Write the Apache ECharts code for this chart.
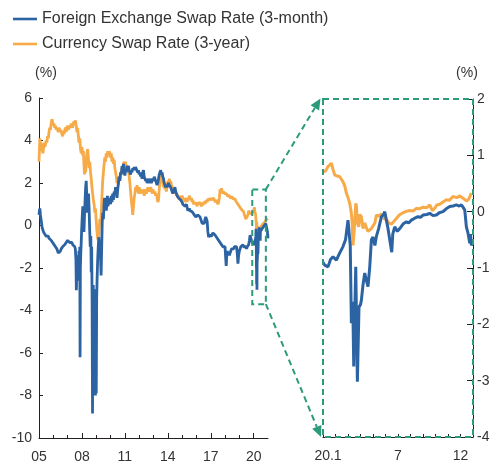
<!DOCTYPE html>
<html>
<head>
<meta charset="utf-8">
<script src="https://cdn.jsdelivr.net/npm/echarts@6/dist/echarts.min.js"></script>
<style>
  html, body { margin: 0; padding: 0; background: #fff; }
  #chart { width: 493px; height: 471px; }
</style>
</head>
<body>
<div id="chart"></div>
<script>
// Series names
const nameFX = 'Foreign Exchange Swap Rate (3-month)';
const nameCS = 'Currency Swap Rate (3-year)';

// Long-run panel: [decimal year, %], 2005 - 2019
const csLong = [
  [2005.00,3.0],[2005.03,3.6],[2005.06,4.1],[2005.10,3.8],[2005.14,3.9],[2005.18,3.5],[2005.22,3.7],[2005.27,3.4],[2005.31,3.6],[2005.36,3.9],
  [2005.40,3.7],[2005.45,3.8],[2005.50,4.0],[2005.55,3.9],[2005.60,4.2],[2005.65,4.1],[2005.70,4.4],[2005.75,4.6],[2005.80,4.5],[2005.85,4.8],
  [2005.90,5.0],[2005.95,4.9],[2006.00,4.7],[2006.05,4.8],[2006.10,4.6],[2006.15,4.7],[2006.20,4.5],[2006.25,4.6],[2006.30,4.5],[2006.35,4.4],
  [2006.40,4.6],[2006.45,4.5],[2006.50,4.4],[2006.55,4.5],[2006.60,4.3],[2006.65,4.2],[2006.70,4.4],[2006.75,4.3],[2006.80,4.5],[2006.85,4.6],
  [2006.90,4.4],[2006.95,4.6],[2007.00,4.7],[2007.05,4.5],[2007.10,4.6],[2007.15,4.7],[2007.20,4.6],[2007.25,4.8],[2007.30,4.7],[2007.35,4.6],
  [2007.40,4.8],[2007.45,4.9],[2007.50,4.8],[2007.55,4.95],[2007.60,4.7],[2007.65,4.4],[2007.70,4.6],[2007.75,4.2],[2007.80,3.9],[2007.85,4.1],
  [2007.90,3.6],[2007.95,3.4],[2008.00,3.7],[2008.05,3.3],[2008.10,3.5],[2008.14,2.9],[2008.18,2.4],[2008.22,2.8],[2008.26,2.5],[2008.30,3.1],
  [2008.35,3.4],[2008.40,3.6],[2008.45,3.2],[2008.50,2.7],[2008.55,3.0],[2008.60,2.5],[2008.65,2.2],[2008.70,1.8],[2008.75,1.5],[2008.80,1.2],
  [2008.85,1.0],[2008.90,0.6],[2008.95,0.8],[2009.00,0.2],[2009.05,-0.3],[2009.10,-0.6],[2009.15,-0.7],[2009.20,-0.2],[2009.25,0.3],[2009.30,0.1],
  [2009.35,0.6],[2009.40,1.4],[2009.45,2.1],[2009.50,2.5],[2009.55,2.9],[2009.60,3.2],[2009.65,3.0],[2009.70,3.4],[2009.75,3.2],[2009.80,3.5],
  [2009.85,3.3],[2009.90,3.5],[2009.95,3.4],[2010.00,3.2],[2010.05,3.4],[2010.10,3.0],[2010.15,3.2],[2010.20,2.9],[2010.25,3.1],[2010.30,2.7],
  [2010.35,2.5],[2010.40,2.3],[2010.45,2.0],[2010.50,2.2],[2010.55,1.9],[2010.60,2.3],[2010.65,2.2],[2010.70,2.5],[2010.75,2.4],[2010.80,2.7],
  [2010.85,2.6],[2010.90,2.9],[2010.95,3.0],[2011.00,2.8],[2011.05,3.0],[2011.10,2.7],[2011.15,2.8],[2011.20,2.5],[2011.25,2.7],[2011.30,2.3],
  [2011.35,2.0],[2011.40,1.6],[2011.45,1.2],[2011.50,0.9],[2011.55,0.5],[2011.60,0.9],[2011.65,1.3],[2011.70,1.5],[2011.75,1.8],[2011.80,1.6],
  [2011.85,1.9],[2011.90,1.7],[2011.95,1.5],[2012.00,1.8],[2012.05,1.6],[2012.10,1.5],[2012.15,1.7],[2012.20,1.5],[2012.25,1.7],[2012.30,1.6],
  [2012.35,1.4],[2012.40,1.6],[2012.45,1.7],[2012.50,1.5],[2012.55,1.6],[2012.60,1.8],[2012.65,1.6],[2012.70,1.7],[2012.75,1.6],[2012.80,1.8],
  [2012.85,1.7],[2012.90,1.5],[2012.95,1.7],[2013.00,1.6],[2013.05,1.5],[2013.10,1.6],[2013.15,1.4],[2013.20,1.5],[2013.25,1.3],[2013.30,1.1],
  [2013.35,1.2],[2013.40,1.7],[2013.45,2.1],[2013.50,2.4],[2013.55,2.2],[2013.60,2.3],[2013.65,2.0],[2013.70,1.8],[2013.75,1.9],[2013.80,1.7],
  [2013.85,1.8],[2013.90,1.6],[2013.95,1.9],[2014.00,2.1],[2014.05,1.9],[2014.10,2.2],[2014.15,2.0],[2014.20,2.1],[2014.25,1.9],[2014.30,1.8],
  [2014.35,1.7],[2014.40,1.6],[2014.45,1.7],[2014.50,1.5],[2014.55,1.6],[2014.60,1.4],[2014.65,1.5],[2014.70,1.3],[2014.75,1.4],[2014.80,1.2],
  [2014.85,1.4],[2014.90,1.3],[2014.95,1.2],[2015.00,1.4],[2015.05,1.3],[2015.10,1.2],[2015.15,1.3],[2015.20,1.1],[2015.25,1.2],[2015.30,1.3],
  [2015.35,1.1],[2015.40,1.3],[2015.45,1.2],[2015.50,1.4],[2015.55,1.3],[2015.60,1.2],[2015.65,1.3],[2015.70,1.1],[2015.75,1.2],[2015.80,1.0],
  [2015.85,1.1],[2015.90,1.0],[2015.95,1.1],[2016.00,1.0],[2016.05,0.9],[2016.10,1.1],[2016.15,1.0],[2016.20,0.95],[2016.25,1.1],[2016.30,1.0],
  [2016.35,0.9],[2016.40,1.05],[2016.45,0.95],[2016.50,1.1],[2016.55,1.0],[2016.60,1.15],[2016.65,1.05],[2016.70,1.2],[2016.75,1.1],[2016.80,1.25],
  [2016.85,1.2],[2016.90,1.3],[2016.95,1.2],[2017.00,1.3],[2017.05,1.2],[2017.10,1.25],[2017.15,1.15],[2017.20,1.3],[2017.25,1.2],[2017.30,1.25],
  [2017.35,1.1],[2017.40,1.2],[2017.45,1.1],[2017.50,1.0],[2017.55,1.1],[2017.60,1.3],[2017.65,1.7],[2017.70,1.6],[2017.75,1.75],[2017.80,1.6],
  [2017.85,1.5],[2017.90,1.6],[2017.95,1.5],[2018.00,1.55],[2018.05,1.45],[2018.10,1.5],[2018.15,1.4],[2018.20,1.45],[2018.25,1.35],[2018.30,1.4],
  [2018.35,1.3],[2018.40,1.35],[2018.45,1.3],[2018.50,1.35],[2018.55,1.25],[2018.60,1.3],[2018.65,1.2],[2018.70,1.25],[2018.75,1.15],[2018.80,1.2],
  [2018.85,1.05],[2018.90,1.0],[2018.95,0.95],[2019.00,0.9],[2019.05,0.85],[2019.10,0.9],[2019.15,0.75],[2019.20,0.8],[2019.25,0.7],[2019.30,0.65],
  [2019.35,0.5],[2019.40,0.45],[2019.45,0.3],[2019.50,0.25],[2019.55,0.35],[2019.60,0.5],[2019.65,0.7],[2019.70,0.75],[2019.75,0.55],[2019.80,0.6],
  [2019.85,0.5],[2019.90,0.6],[2019.95,0.65]
];

const fxLong = [
  [2005.00,0.5],[2005.03,0.7],[2005.06,0.8],[2005.10,0.5],[2005.14,0.3],[2005.18,0.1],[2005.22,-0.1],[2005.27,-0.2],[2005.31,-0.3],[2005.36,-0.35],
  [2005.40,-0.4],[2005.45,-0.45],[2005.50,-0.5],[2005.55,-0.45],[2005.60,-0.55],[2005.65,-0.5],[2005.70,-0.6],[2005.75,-0.55],[2005.80,-0.65],[2005.85,-0.7],
  [2005.90,-0.75],[2005.95,-0.8],[2006.00,-0.85],[2006.05,-0.9],[2006.10,-0.95],[2006.15,-1.0],[2006.20,-1.05],[2006.25,-1.1],[2006.30,-1.2],[2006.35,-1.3],
  [2006.40,-1.25],[2006.45,-1.3],[2006.50,-1.2],[2006.55,-1.1],[2006.60,-1.05],[2006.65,-1.0],[2006.70,-1.05],[2006.75,-0.95],[2006.80,-0.9],[2006.85,-0.85],
  [2006.90,-0.8],[2006.95,-0.75],[2007.00,-0.7],[2007.05,-0.65],[2007.10,-0.75],[2007.15,-0.8],[2007.20,-0.75],[2007.25,-0.85],[2007.30,-0.8],[2007.35,-0.9],
  [2007.40,-0.85],[2007.45,-0.95],[2007.50,-1.0],[2007.54,-1.1],[2007.58,-1.6],[2007.61,-3.05],[2007.64,-2.2],[2007.67,-1.4],[2007.70,-2.0],[2007.73,-1.5],
  [2007.76,-2.6],[2007.79,-1.2],[2007.82,-1.8],[2007.85,-1.0],[2007.87,-6.2],[2007.89,-2.0],[2007.92,-1.3],[2007.95,-0.8],[2007.98,-0.2],[2008.02,0.4],
  [2008.06,0.9],[2008.10,0.3],[2008.14,-0.3],[2008.18,0.5],[2008.22,1.2],[2008.26,1.8],[2008.30,2.1],[2008.34,1.3],[2008.38,0.6],[2008.42,1.1],
  [2008.46,1.5],[2008.50,0.8],[2008.54,-0.2],[2008.58,-1.0],[2008.62,-0.5],[2008.65,-2.2],[2008.68,-1.0],[2008.71,-3.5],[2008.74,-8.85],[2008.76,-4.0],
  [2008.79,-2.8],[2008.82,-5.5],[2008.85,-3.0],[2008.88,-7.5],[2008.91,-4.2],[2008.94,-8.0],[2008.97,-5.0],[2009.00,-7.9],[2009.03,-3.4],[2009.06,-2.5],
  [2009.10,-1.6],[2009.14,-1.0],[2009.18,-0.55],[2009.22,-1.2],[2009.26,-0.8],[2009.30,-1.5],[2009.34,-2.35],[2009.38,-1.0],[2009.42,0.2],[2009.46,0.6],
  [2009.50,0.3],[2009.54,0.9],[2009.58,1.3],[2009.62,0.8],[2009.66,1.2],[2009.70,0.7],[2009.74,1.0],[2009.78,1.4],[2009.82,0.9],[2009.86,1.2],
  [2009.90,1.0],[2009.95,1.3],[2010.00,1.0],[2010.05,1.4],[2010.10,1.1],[2010.15,1.5],[2010.20,1.2],[2010.25,1.6],[2010.30,1.5],[2010.35,1.8],
  [2010.40,1.6],[2010.45,1.3],[2010.50,1.7],[2010.55,2.0],[2010.60,2.3],[2010.65,2.1],[2010.70,2.5],[2010.75,2.4],[2010.80,2.8],[2010.85,2.6],
  [2010.90,2.9],[2010.95,2.5],[2011.00,2.35],[2011.05,2.6],[2011.10,2.5],[2011.15,2.8],[2011.20,2.7],[2011.25,2.8],[2011.30,2.6],[2011.35,2.5],
  [2011.40,2.4],[2011.45,2.6],[2011.50,2.5],[2011.55,2.7],[2011.60,2.6],[2011.65,2.75],[2011.70,2.6],[2011.75,2.75],[2011.80,2.65],[2011.85,2.7],
  [2011.90,2.5],[2011.95,2.6],[2012.00,2.4],[2012.05,2.5],[2012.10,2.3],[2012.15,2.4],[2012.20,2.2],[2012.25,2.5],[2012.30,2.6],[2012.35,2.3],
  [2012.40,2.2],[2012.45,2.1],[2012.50,2.2],[2012.55,2.0],[2012.60,2.1],[2012.65,2.2],[2012.70,2.0],[2012.75,2.1],[2012.80,2.2],[2012.85,2.0],
  [2012.90,2.1],[2012.95,2.2],[2013.00,2.1],[2013.05,2.3],[2013.10,2.2],[2013.15,2.1],[2013.20,2.0],[2013.25,1.9],[2013.30,2.0],[2013.35,2.2],
  [2013.40,2.4],[2013.45,2.5],[2013.50,2.6],[2013.55,2.4],[2013.60,2.5],[2013.65,2.3],[2013.70,2.2],[2013.75,2.0],[2013.80,1.9],[2013.85,1.8],
  [2013.90,1.9],[2013.95,1.8],[2014.00,1.9],[2014.05,2.0],[2014.10,1.9],[2014.15,1.95],[2014.20,1.8],[2014.25,1.7],[2014.30,1.6],[2014.35,1.5],
  [2014.40,1.6],[2014.45,1.7],[2014.50,1.8],[2014.55,1.6],[2014.60,1.5],[2014.65,1.4],[2014.70,1.35],[2014.75,1.3],[2014.80,1.25],[2014.85,1.3],
  [2014.90,1.2],[2014.95,1.15],[2015.00,1.1],[2015.05,1.0],[2015.10,1.05],[2015.15,0.95],[2015.20,0.9],[2015.25,0.95],[2015.30,1.0],[2015.35,0.85],
  [2015.40,0.7],[2015.45,0.75],[2015.50,0.8],[2015.55,0.7],[2015.60,0.75],[2015.65,0.7],[2015.70,0.65],[2015.75,0.7],[2015.80,0.6],[2015.85,0.5],
  [2015.90,0.45],[2015.95,0.4],[2016.00,0.35],[2016.05,0.4],[2016.10,0.5],[2016.15,0.55],[2016.20,0.5],[2016.25,0.4],[2016.30,0.3],[2016.35,0.2],
  [2016.40,0.1],[2016.45,0.05],[2016.50,0.15],[2016.55,0.1],[2016.60,0.3],[2016.65,0.4],[2016.70,0.35],[2016.75,0.2],[2016.80,-0.3],[2016.85,-0.55],
  [2016.90,-0.45],[2016.95,-0.5],[2017.00,-0.4],[2017.05,-0.5],[2017.10,-0.45],[2017.15,-0.35],[2017.20,-0.4],[2017.25,-0.3],[2017.30,-0.45],[2017.35,-0.4],
  [2017.40,-0.5],[2017.45,-0.6],[2017.50,-0.55],[2017.55,-0.7],[2017.60,-0.65],[2017.65,-0.8],[2017.70,-0.75],[2017.75,-0.9],[2017.80,-0.85],[2017.85,-1.0],
  [2017.90,-0.95],[2017.95,-1.05],[2018.00,-1.0],[2018.04,-1.5],[2018.08,-1.9],[2018.12,-1.4],[2018.16,-1.2],[2018.20,-1.35],[2018.25,-1.25],[2018.30,-1.4],
  [2018.35,-1.3],[2018.40,-1.2],[2018.45,-1.1],[2018.50,-1.15],[2018.55,-1.05],[2018.60,-1.1],[2018.65,-1.0],[2018.70,-1.05],[2018.75,-0.95],[2018.80,-1.0],
  [2018.85,-1.3],[2018.90,-1.8],[2018.95,-1.4],[2019.00,-1.2],[2019.05,-1.1],[2019.10,-1.0],[2019.15,-1.05],[2019.20,-0.95],[2019.25,-0.9],[2019.30,-1.0],
  [2019.35,-0.95],[2019.40,-1.05],[2019.45,-1.0],[2019.50,-1.1],[2019.55,-1.0],[2019.60,-0.95],[2019.65,-0.9],[2019.70,-0.7],[2019.75,-0.45],[2019.80,-0.6],
  [2019.85,-0.7],[2019.90,-0.8],[2019.95,-0.85]
];

// 2020 detail panel: [months since 1 Jan 2020, %]
const cs2020 = [
  [0,0.71],[0.2,0.72],[0.4,0.8],[0.55,0.78],[0.67,0.86],[0.8,0.75],[0.94,0.65],[1.1,0.66],[1.34,0.62],[1.5,0.6],
  [1.6,0.53],[1.75,0.45],[1.87,0.33],[2.0,0.25],[2.14,0.15],[2.25,0.0],[2.32,-0.15],[2.4,-0.6],[2.48,-0.38],[2.56,-0.1],
  [2.62,0.15],[2.67,0.1],[2.75,-0.2],[2.86,-0.27],[2.95,-0.05],[3.07,-0.09],[3.2,-0.3],[3.34,-0.2],[3.5,-0.3],[3.6,-0.35],
  [3.74,-0.33],[3.87,-0.3],[4.0,-0.28],[4.15,-0.2],[4.27,-0.06],[4.45,-0.08],[4.67,-0.04],[4.85,-0.12],[5.07,-0.14],[5.25,-0.2],
  [5.47,-0.22],[5.65,-0.18],[5.87,-0.12],[6.1,-0.06],[6.4,-0.02],[6.6,0.0],[6.94,0.02],[7.2,0.01],[7.47,0.06],[7.7,0.05],
  [8.0,0.08],[8.3,0.07],[8.54,0.12],[8.75,0.02],[8.94,0.06],[9.1,0.12],[9.34,0.13],[9.6,0.17],[9.87,0.21],[10.1,0.2],
  [10.4,0.27],[10.7,0.25],[10.94,0.28],[11.2,0.24],[11.47,0.19],[11.65,0.22],[11.87,0.33]
];

const fx2020 = [
  [0,-0.9],[0.14,-0.95],[0.4,-0.98],[0.6,-0.85],[0.8,-0.8],[1.07,-0.86],[1.3,-0.75],[1.6,-0.62],[1.8,-0.5],[2.0,-0.15],
  [2.1,-0.4],[2.18,-0.6],[2.27,-1.98],[2.38,-1.6],[2.46,-2.75],[2.54,-1.8],[2.62,-0.98],[2.68,-1.9],[2.75,-3.02],[2.82,-2.3],
  [2.88,-1.69],[3.0,-1.65],[3.07,-1.57],[3.2,-1.3],[3.34,-1.09],[3.45,-1.2],[3.6,-1.33],[3.74,-0.98],[3.87,-0.5],[4.0,-0.45],
  [4.15,-0.6],[4.27,-0.44],[4.45,-0.3],[4.67,-0.09],[4.85,-0.05],[4.94,0.0],[5.07,-0.15],[5.2,-0.3],[5.34,-0.5],[5.5,-0.72],
  [5.58,-0.4],[5.74,-0.27],[5.95,-0.35],[6.14,-0.3],[6.4,-0.22],[6.67,-0.18],[6.85,-0.2],[7.07,-0.15],[7.3,-0.12],[7.6,-0.09],
  [7.8,-0.1],[8.0,-0.06],[8.3,-0.05],[8.54,-0.03],[8.8,-0.07],[9.07,-0.06],[9.3,-0.02],[9.6,0.0],[9.85,0.05],[10.14,0.09],
  [10.4,0.1],[10.67,0.12],[10.9,0.1],[11.07,0.12],[11.2,0.08],[11.34,0.03],[11.47,-0.27],[11.6,-0.38],[11.74,-0.56],[11.8,-0.4],
  [11.87,-0.6],[11.95,-0.55]
];

// Tick labels
const yearLabelYears = [2005, 2008, 2011, 2014, 2017, 2020];
const monthLabels = { 0: '{first|20.1}', 6: '7', 11: '12' };

// The long-run panel carries the 2020 observations on as well
const toYear = p => [2020 + p[0] / 12, p[1]];
const csAll = csLong.concat(cs2020.map(toYear));
const fxAll = fxLong.concat(fx2020.map(toYear));

const BLUE = '#2c63a3';
const ORANGE = '#f7aa48';
const GREEN = '#2b9b7c';
const AXIS = '#231f20';
const TEXT = '#333333';
const FONT = '"Liberation Sans", Arial, Helvetica, sans-serif';

const allYears = [];
for (let y = 2005; y <= 2020; y++) allYears.push(y);

const chart = echarts.init(document.getElementById('chart'), null, { renderer: 'canvas' });

const labelStyle = { color: TEXT, fontSize: 14, fontFamily: FONT };

chart.setOption({
  animation: false,
  backgroundColor: '#ffffff',
  textStyle: { fontFamily: FONT },
  legend: {
    data: [nameFX, nameCS],
    orient: 'vertical',
    left: 8,
    top: 6,
    itemWidth: 24,
    itemHeight: 14,
    itemGap: 9,
    icon: 'path://M0,6 L24,6 L24,8.6 L0,8.6 Z',
    textStyle: { color: TEXT, fontSize: 16, fontFamily: FONT }
  },
  grid: [
    { left: 39, top: 98, width: 229, height: 340 },
    { left: 323, top: 99, width: 150, height: 338 }
  ],
  xAxis: [
    {
      gridIndex: 0, type: 'value', min: 2005, max: 2021, position: 'bottom',
      axisLine: { show: true, onZero: false, lineStyle: { color: AXIS, width: 1 } },
      axisTick: { show: true, inside: true, length: 5, customValues: yearLabelYears, lineStyle: { color: AXIS } },
      axisLabel: {
        show: true, margin: 12, customValues: yearLabelYears, ...labelStyle,
        formatter: v => String(Math.round(v) % 100).padStart(2, '0')
      },
      splitLine: { show: false }
    },
    {
      gridIndex: 0, type: 'value', min: 2005, max: 2021, position: 'bottom', offset: 0,
      axisLine: { show: false, onZero: false },
      axisTick: { show: true, inside: true, length: 3, customValues: allYears, lineStyle: { color: AXIS } },
      axisLabel: { show: false },
      splitLine: { show: false }
    },
    {
      gridIndex: 1, type: 'value', min: 0, max: 12, interval: 1, position: 'bottom',
      axisLine: { show: true, onZero: false, lineStyle: { color: AXIS, width: 1 } },
      axisTick: { show: true, inside: true, length: 3, lineStyle: { color: AXIS } },
      axisLabel: {
        show: true, margin: 12, customValues: [0, 6, 11], ...labelStyle,
        formatter: v => monthLabels[Math.round(v)] || '',
        rich: { first: { ...labelStyle, padding: [0, 0, 0, 10] } }
      },
      splitLine: { show: false }
    }
  ],
  yAxis: [
    {
      gridIndex: 0, type: 'value', min: -10, max: 6, interval: 2, position: 'left',
      axisLine: { show: true, onZero: false, lineStyle: { color: AXIS, width: 1 } },
      axisTick: { show: true, inside: true, length: 4, lineStyle: { color: AXIS } },
      axisLabel: { margin: 7, ...labelStyle },
      splitLine: { show: false }
    },
    {
      gridIndex: 1, type: 'value', min: -4, max: 2, interval: 1, position: 'right',
      axisLine: { show: true, onZero: false, lineStyle: { color: AXIS, width: 1 } },
      axisTick: { show: true, inside: true, length: 6, lineStyle: { color: AXIS } },
      axisLabel: { margin: 4, ...labelStyle },
      splitLine: { show: false }
    }
  ],
  series: [
    {
      name: nameCS, type: 'line', xAxisIndex: 0, yAxisIndex: 0, data: csAll,
      showSymbol: false, symbol: 'none', color: ORANGE,
      lineStyle: { color: ORANGE, width: 2.8 }, z: 2
    },
    {
      name: nameFX, type: 'line', xAxisIndex: 0, yAxisIndex: 0, data: fxAll,
      showSymbol: false, symbol: 'none', color: BLUE,
      lineStyle: { color: BLUE, width: 2.8 }, z: 3
    },
    {
      name: nameCS, type: 'line', xAxisIndex: 2, yAxisIndex: 1, data: cs2020,
      showSymbol: false, symbol: 'none', color: ORANGE,
      lineStyle: { color: ORANGE, width: 3 }, z: 2
    },
    {
      name: nameFX, type: 'line', xAxisIndex: 2, yAxisIndex: 1, data: fx2020,
      showSymbol: false, symbol: 'none', color: BLUE,
      lineStyle: { color: BLUE, width: 3 }, z: 3
    }
  ]
});

// Zoom annotation: dashed frame on the 2020 slice of the long-run panel,
// dashed frame round the detail panel, and two arrows joining them.
const px0 = v => chart.convertToPixel({ xAxisIndex: 0, yAxisIndex: 0 }, v);
const px1 = v => chart.convertToPixel({ xAxisIndex: 2, yAxisIndex: 1 }, v);

const smallTL = px0([2019.9, 1.7]);
const smallBR = px0([2020.85, -3.7]);
const bigTL = px1([0, 2]);
const bigBR = px1([12, -4]);

const dash = { stroke: GREEN, lineWidth: 2, lineDash: [6, 4], fill: null };

function arrow(from, tip) {
  const dx = tip[0] - from[0], dy = tip[1] - from[1];
  const len = Math.sqrt(dx * dx + dy * dy);
  const ux = dx / len, uy = dy / len;
  const headLen = 11, headHalf = 5;
  const base = [tip[0] - ux * headLen, tip[1] - uy * headLen];
  return [
    { type: 'line', silent: true, z: 20,
      shape: { x1: from[0], y1: from[1], x2: base[0], y2: base[1] },
      style: { stroke: GREEN, lineWidth: 2, lineDash: [6, 4] } },
    { type: 'polygon', silent: true, z: 20,
      shape: { points: [tip,
        [base[0] - uy * headHalf, base[1] + ux * headHalf],
        [base[0] + uy * headHalf, base[1] - ux * headHalf]] },
      style: { fill: GREEN } }
  ];
}

const graphics = [
  { type: 'rect', silent: true, z: 20,
    shape: { x: smallTL[0], y: smallTL[1], width: smallBR[0] - smallTL[0], height: smallBR[1] - smallTL[1] },
    style: dash },
  { type: 'rect', silent: true, z: 20,
    shape: { x: bigTL[0], y: bigTL[1], width: bigBR[0] - bigTL[0], height: bigBR[1] - bigTL[1] },
    style: dash },
  ...arrow([smallBR[0], smallTL[1]], [bigTL[0] - 2.5, bigTL[1] - 0.5]),
  ...arrow([smallBR[0], smallBR[1]], [bigTL[0] - 2, bigBR[1]]),
  { type: 'text', silent: true, style: { text: '(%)', x: px0([2005, 6])[0] + 7, y: 73, align: 'center', verticalAlign: 'middle', fill: TEXT, font: '14px ' + FONT } },
  { type: 'text', silent: true, style: { text: '(%)', x: bigBR[0] - 6, y: 73, align: 'center', verticalAlign: 'middle', fill: TEXT, font: '14px ' + FONT } }
];

chart.setOption({ graphic: graphics });
</script>
</body>
</html>
